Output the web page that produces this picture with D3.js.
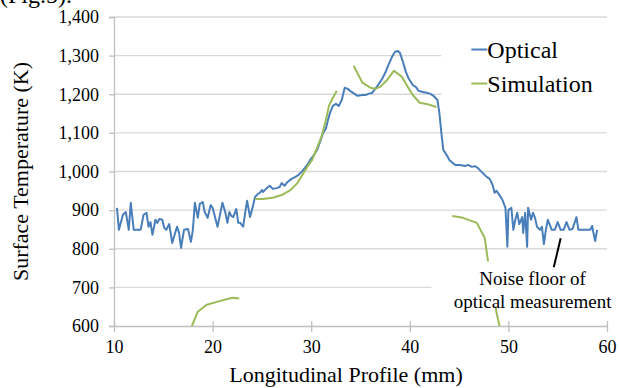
<!DOCTYPE html>
<html>
<head>
<meta charset="utf-8">
<script src="https://cdn.jsdelivr.net/npm/d3@7"></script>
<style>
  body { margin: 0; background: #fff; }
  svg { display: block; font-family: "Liberation Serif", "Times New Roman", serif; }
</style>
</head>
<body>
<svg id="chart" width="619" height="388"></svg>
<script>
// tick values
var xTicks = [10, 20, 30, 40, 50, 60];
var yTicks = [600, 700, 800, 900, 1000, 1100, 1200, 1300, 1400];

// optical measurement [mm, K]
var optical = [
  [10.3, 906], [10.5, 849], [10.9, 888], [11.2, 895], [11.5, 849], [11.7, 919], [12.0, 849], [12.7, 849],
  [13.0, 888], [13.3, 893], [13.5, 857], [13.7, 869], [13.9, 836], [14.2, 875], [14.4, 867], [14.6, 877],
  [14.9, 875], [15.1, 854], [15.3, 849], [15.6, 864], [15.9, 815], [16.2, 841], [16.4, 857], [16.6, 841],
  [16.8, 802], [17.1, 849], [17.5, 851], [17.8, 818], [18.0, 849], [18.2, 919], [18.5, 880], [18.7, 916],
  [19.0, 921], [19.2, 895], [19.5, 880], [19.8, 913], [20.0, 906], [20.5, 857], [20.7, 882], [21.0, 919],
  [21.3, 893], [21.5, 867], [21.7, 895], [21.9, 885], [22.1, 882], [22.4, 903], [22.6, 867], [22.8, 867],
  [23.1, 857], [23.3, 893], [23.5, 924], [23.8, 882], [24.1, 911], [24.3, 934], [24.6, 942], [24.8, 945],
  [25.0, 952], [25.1, 947], [25.5, 957], [25.8, 963], [26.1, 955], [26.5, 957], [26.8, 960], [27.0, 970],
  [27.3, 963], [27.6, 973], [28.0, 981], [28.4, 986], [28.7, 991], [29.1, 1001], [29.6, 1017], [29.9, 1030],
  [30.2, 1040], [30.6, 1056], [30.9, 1077], [31.2, 1099], [31.5, 1112], [31.7, 1133], [31.9, 1151],
  [32.2, 1170], [32.5, 1175], [32.8, 1170], [33.1, 1185], [33.4, 1217], [33.7, 1214], [34.1, 1206],
  [34.4, 1201], [34.7, 1196], [35.2, 1198], [35.5, 1198], [35.8, 1201], [36.2, 1204], [36.5, 1214],
  [36.8, 1224], [37.2, 1240], [37.5, 1255], [37.8, 1274], [38.2, 1297], [38.5, 1310], [38.8, 1312],
  [39.0, 1307], [39.3, 1284], [39.6, 1258], [39.9, 1240], [40.3, 1224], [40.6, 1219], [40.9, 1209],
  [41.3, 1206], [41.7, 1204], [42.1, 1201], [42.4, 1196], [42.8, 1185], [43.0, 1152], [43.2, 1100],
  [43.4, 1056], [43.8, 1040], [44.0, 1030], [44.6, 1017], [45.1, 1017], [45.6, 1014], [45.9, 1017],
  [46.3, 1012], [46.6, 1014], [46.9, 1009], [47.2, 1001], [47.4, 996], [47.8, 986], [48.1, 981],
  [48.4, 965], [48.6, 945], [48.8, 950], [49.1, 939], [49.4, 926], [49.7, 906], [49.9, 805], [50.0, 900],
  [50.3, 906], [50.5, 849], [50.7, 875], [50.9, 893], [51.1, 864], [51.4, 882], [51.5, 841], [51.7, 893],
  [51.9, 805], [52.0, 906], [52.3, 875], [52.5, 893], [52.7, 880], [52.9, 857], [53.2, 849], [53.4, 857],
  [53.6, 812], [53.8, 849], [54.0, 875], [54.4, 849], [54.7, 849], [55.0, 869], [55.3, 849], [55.6, 849],
  [55.9, 869], [56.2, 849], [56.5, 851], [56.9, 882], [57.1, 849], [58.3, 849], [58.5, 859], [58.6, 844],
  [58.8, 820], [59.0, 849]
];

// simulation [mm, K], null = no value
var simulation = [
  [17.9, 600], [18.5, 637], [19.4, 655], [20.8, 665], [22.0, 673], [22.7, 671],
  null,
  [24.3, 929], [25.1, 929], [26.1, 932], [27.0, 939], [27.9, 952], [28.6, 970], [29.1, 991], [29.6, 1012],
  [30.1, 1030], [30.6, 1061], [31.1, 1095], [31.5, 1134], [31.8, 1170], [32.2, 1191], [32.6, 1209],
  null,
  [34.3, 1274], [35.2, 1230], [36.0, 1217], [36.5, 1214], [37.0, 1219], [37.7, 1237], [38.4, 1261],
  [39.2, 1245], [39.8, 1219], [40.3, 1198], [41.0, 1178], [41.7, 1175], [42.7, 1167],
  null,
  [44.3, 885], [45.4, 880], [46.8, 867], [47.6, 828], [48.0, 755], [48.8, 634], [49.1, 600]
];

var series = [
  { name: "Optical", color: "#4a7ebb", values: optical },
  { name: "Simulation", color: "#9bbb59", values: simulation }
];

var margin = { top: 17, right: 12, bottom: 62, left: 114 };
var svg = d3.select("#chart");
var width = +svg.attr("width") - margin.left - margin.right;
var height = +svg.attr("height") - margin.top - margin.bottom;

var x = d3.scaleLinear().domain([10, 60]).range([0, width]);
var y = d3.scaleLinear().domain([600, 1400]).range([height, 0]);

// cut-off caption from the page above
svg.append("text")
  .attr("x", 0)
  .attr("y", 3)
  .style("font-size", "24px")
  .text("(Fig.5).");

var g = svg.append("g").attr("transform", `translate(${margin.left},${margin.top})`);

g.append("clipPath").attr("id", "plot-clip")
  .append("rect").attr("width", width).attr("height", height);

// horizontal grid
g.append("g")
  .selectAll("line")
  .data(yTicks.slice(1))
  .enter()
  .append("line")
  .attr("x1", 0)
  .attr("x2", width)
  .attr("y1", d => y(d))
  .attr("y2", d => y(d))
  .attr("stroke", "#d9d9d9")
  .attr("stroke-width", 1.3);

// y axis
var yAxis = g.append("g")
  .call(d3.axisLeft(y).tickValues(yTicks).tickFormat(d3.format(",")).tickSize(5).tickPadding(10));
yAxis.select(".domain").attr("stroke", "#bfbfbf").attr("stroke-width", 1.3);
yAxis.selectAll(".tick line").attr("stroke", "#bfbfbf").attr("stroke-width", 1.3);
yAxis.selectAll(".tick text")
  .attr("fill", "#000")
  .style("font-size", "18px")
  .style("font-family", "Liberation Serif, serif");

// x axis, ticks cross the line
var xAxis = g.append("g")
  .attr("transform", `translate(0,${height})`)
  .call(d3.axisBottom(x).tickValues(xTicks).tickSize(6).tickPadding(8).tickSizeOuter(0));
xAxis.select(".domain").attr("stroke", "#bfbfbf").attr("stroke-width", 1.3);
xAxis.selectAll(".tick line").attr("y1", -5).attr("stroke", "#bfbfbf").attr("stroke-width", 1.3);
xAxis.selectAll(".tick text")
  .attr("fill", "#000")
  .style("font-size", "18px")
  .style("font-family", "Liberation Serif, serif");

// series lines
var line = d3.line()
  .defined(d => d !== null)
  .x(d => x(d[0]))
  .y(d => y(d[1]));

g.append("g")
  .attr("clip-path", "url(#plot-clip)")
  .selectAll("path")
  .data(series)
  .enter()
  .append("path")
  .attr("fill", "none")
  .attr("stroke", d => d.color)
  .attr("stroke-width", 2)
  .attr("stroke-linejoin", "round")
  .attr("d", d => line(d.values));

// legend with white backing
var legend = g.append("g").attr("transform", `translate(${x(43.2)},${y(1365)})`);

legend.append("rect")
  .attr("width", x(60) - x(43.2))
  .attr("height", 78)
  .attr("fill", "#fff");

legend.selectAll("line")
  .data(series)
  .enter()
  .append("line")
  .attr("x1", 30)
  .attr("x2", 46)
  .attr("y1", (d, i) => 19 + i * 34)
  .attr("y2", (d, i) => 19 + i * 34)
  .attr("stroke", d => d.color)
  .attr("stroke-width", 2);

legend.selectAll("text")
  .data(series)
  .enter()
  .append("text")
  .attr("x", 46)
  .attr("y", (d, i) => 27 + i * 34)
  .style("font-size", "24px")
  .text(d => d.name);

// note on the noise floor
var note = g.append("g");
note.append("rect")
  .attr("x", x(42.2))
  .attr("y", y(767))
  .attr("width", x(60) - x(42.2))
  .attr("height", y(650) - y(767))
  .attr("fill", "#fff");
note.append("line")
  .attr("x1", x(54.6)).attr("y1", y(752))
  .attr("x2", x(55.3)).attr("y2", y(827))
  .attr("stroke", "#000")
  .attr("stroke-width", 2);
note.selectAll("text")
  .data(["Noise floor of", "optical measurement"])
  .enter()
  .append("text")
  .attr("x", x(52.45))
  .attr("y", (d, i) => y(705) + i * 23)
  .attr("text-anchor", "middle")
  .style("font-size", "19px")
  .text(d => d);

// axis titles
svg.append("text")
  .attr("x", 346)
  .attr("y", 382)
  .attr("text-anchor", "middle")
  .style("font-size", "22px")
  .text("Longitudinal Profile (mm)");

svg.append("text")
  .attr("transform", `translate(28,${margin.top + height / 2}) rotate(-90)`)
  .attr("text-anchor", "middle")
  .style("font-size", "22px")
  .text("Surface Temperature (K)");
</script>
</body>
</html>
